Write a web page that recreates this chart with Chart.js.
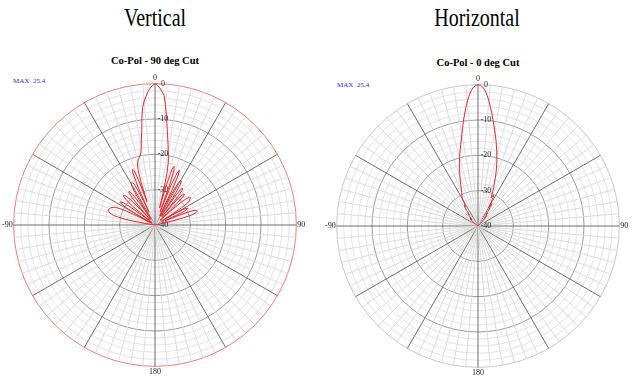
<!DOCTYPE html>
<html><head><meta charset="utf-8">
<script src="https://cdn.jsdelivr.net/npm/chart.js@4.4.1/dist/chart.umd.min.js"></script>
<style>
html,body{margin:0;padding:0;background:#fff;width:640px;height:381px;overflow:hidden;position:relative}
.t{position:absolute;font-family:"Liberation Serif","Times New Roman",serif;color:#000;white-space:nowrap;transform-origin:center top;line-height:normal}
.big{font-size:20px;transform:translateX(-50%) scaleY(1.3)}
.sub{font-size:10.5px;font-weight:bold;transform:translateX(-50%)}
.max{font-size:7px;color:#2b2bd6;word-spacing:2px}
canvas{position:absolute}
</style></head><body>
<div class="t big" style="left:155px;top:3px">Vertical</div>
<div class="t big" style="left:477px;top:3px">Horizontal</div>
<div class="t sub" style="left:155px;top:55px">Co-Pol - 90 deg Cut</div>
<div class="t sub" style="left:478px;top:57px">Co-Pol - 0 deg Cut</div>
<div class="t max" style="left:13px;top:77px">MAX 25.4</div>
<div class="t max" style="left:337px;top:81px">MAX 25.4</div>
<canvas id="cv" width="306" height="306" style="left:1px;top:73px"></canvas>
<canvas id="ch" width="306" height="306" style="left:324px;top:74px"></canvas>
<script>
// Angles of the front half-plane, -90 .. 90 deg (1 deg steps)
const frontAngles = [];
for (let a = -90; a <= 90; a++) frontAngles.push(a);

// Vertical (Co-Pol 90 deg cut), dB relative to max, angles -90..90
const verticalDb = [
  -40,-40,-40,-40,-40,-40,-40,-40,-39,-37,
  -34,-31.5,-29.5,-28,-27.3,-26.8,-26.5,-26.3,-26.2,-26.2,
  -26.3,-26.5,-26.8,-27.2,-27.8,-29,-31,-35,-39,-38,
  -34,-30.5,-28.8,-28.2,-28.3,-29,-31,-35,-39,-36,
  -32,-29.5,-28.2,-27.8,-28,-28.5,-30,-34,-38,-34,
  -30.5,-28.5,-28,-28.3,-29.5,-33,-38,-35,-30,-27.5,
  -26.5,-26.3,-26.5,-27,-30,-36,-28,-24,-23,-23.5,
  -27,-33,-27,-23.5,-22,-21.3,-20.8,-20.3,-19.8,-19,
  -17.5,-15.5,-13,-9.5,-6.5,-4.8,-3.5,-2.2,-1.2,-0.5,
  0,
  -0.5,-1.2,-2.2,-3.2,-6,-9,-12,-14.5,-16.5,-18.5,
  -20,-22,-25,-30,-35,-28,-23.5,-22.5,-23.5,-28,
  -36,-28,-24,-23,-24.5,-29,-37,-30,-26.5,-25.5,
  -25.5,-26.5,-30,-37,-30,-27.5,-27,-27.5,-30,-37,
  -31,-28.5,-28,-28,-29.5,-33,-38,-34,-30,-28.5,
  -27.5,-27.3,-27.5,-28,-28,-29,-31,-35,-38,-34,
  -31,-30,-29.5,-30,-31,-34,-37,-32,-29,-28,
  -27.5,-27.5,-27.8,-28.5,-30,-32,-35,-38,-40,-40,
  -40,-40,-40,-40,-40,-40,-40,-40,-40,-40
];

// Horizontal (Co-Pol 0 deg cut), dB relative to max, angles -90..90
const horizontalDb = [
  -40,-40,-40,-40,-40,-40,-40,-40,-40,-40,
  -40,-40,-40,-40,-40,-40,-40,-40,-40,-40,
  -40,-40,-40,-40,-40,-40,-40,-40,-40,-40,
  -40,-40,-40,-40,-40,-40,-40,-39.5,-39,-38.5,
  -38,-37.5,-37,-37.5,-37,-37.5,-37,-37.5,-37,-36.5,
  -36,-35.5,-36,-35.5,-34.5,-33.5,-33,-33.5,-33,-32.3,
  -31.5,-30.8,-30.3,-30,-29.5,-29,-28.3,-27.6,-26.8,-26,
  -25,-24,-23,-22,-21,-19.9,-18.8,-17.7,-16.5,-15.2,
  -13.7,-12,-10.2,-8.4,-6.6,-4.8,-3.2,-1.8,-0.8,-0.2,
  0,
  -0.2,-0.7,-1.6,-2.9,-4.5,-6.2,-7.9,-9.6,-11.2,-12.7,
  -14.1,-15.4,-16.8,-18.1,-19.4,-20.6,-21.9,-23.2,-24.5,-25.8,
  -27,-28.2,-29.3,-30.4,-31.2,-30.5,-30.2,-31,-32.5,-34,
  -33,-32.5,-33.5,-35,-36,-35.5,-36,-36.5,-37,-36.2,
  -37,-38,-38.5,-39,-39.5,-40,-40,-40,-40,-40,
  -40,-40,-40,-40,-40,-40,-40,-40,-40,-40,
  -40,-40,-40,-40,-40,-40,-40,-40,-40,-40,
  -40,-40,-40,-40,-40,-40,-40,-40,-40,-40,
  -40,-40,-40,-40,-40,-40,-40,-40,-40,-40
];

// Angular categories: one per degree, labelled 0..180 and -179..-1
const degreeLabels = [];
for (let a = 0; a < 360; a++) degreeLabels.push(a <= 180 ? String(a) : String(a - 360));
const shownAngleLabels = ['0', '90', '180', '-90'];
const ringLabels = [-40, -30, -20, -10, 0];

function placeOnCircle(values) {
  const out = new Array(360).fill(null); // back half: below plot floor, no data drawn
  frontAngles.forEach((a, i) => { out[(a + 360) % 360] = values[i]; });
  return out;
}

const SERIF = '"Liberation Serif","Times New Roman",serif';

function makeChart(id, values, outerRingColor) {
  return new Chart(document.getElementById(id), {
    type: 'radar',
    data: {
      labels: degreeLabels,
      datasets: [{
        data: placeOnCircle(values),
        borderColor: '#e4262b',
        borderWidth: 1,
        pointRadius: 0,
        pointHoverRadius: 0,
        fill: false,
        tension: 0,
        spanGaps: true
      }]
    },
    options: {
      responsive: false,
      animation: false,
      devicePixelRatio: 1,
      events: [],
      layout: { padding: 0 },
      plugins: { legend: { display: false }, tooltip: { enabled: false } },
      scales: {
        r: {
          min: -40, max: 0,
          startAngle: 0,
          grid: {
            circular: true,
            lineWidth: 1,
            color: (c) => {
              const v = c.tick ? c.tick.value : 1;
              if (v === 0) return outerRingColor;
              return v % 10 === 0 ? '#9a9a9a' : '#e3e3e3';
            }
          },
          angleLines: {
            display: true,
            lineWidth: (c) => (c.index % 5 === 0 ? 1 : 0),
            color: (c) => c.index % 30 === 0 ? '#6e6e6e' : (c.index % 5 === 0 ? '#dcdcdc' : 'rgba(0,0,0,0)')
          },
          ticks: {
            stepSize: 2,
            showLabelBackdrop: false,
            backdropPadding: 0,
            color: '#222',
            font: { family: SERIF, size: 8 },
            callback: (v) => ringLabels.includes(v) ? '        ' + v : ''
          },
          pointLabels: {
            display: true,
            padding: -3,
            color: '#222',
            font: { family: SERIF, size: 8 },
            callback: (label) => shownAngleLabels.includes(label) ? label : ''
          }
        }
      }
    }
  });
}

makeChart('cv', verticalDb, '#f07c7c');
makeChart('ch', horizontalDb, '#c8c8c8');
</script>
</body></html>
